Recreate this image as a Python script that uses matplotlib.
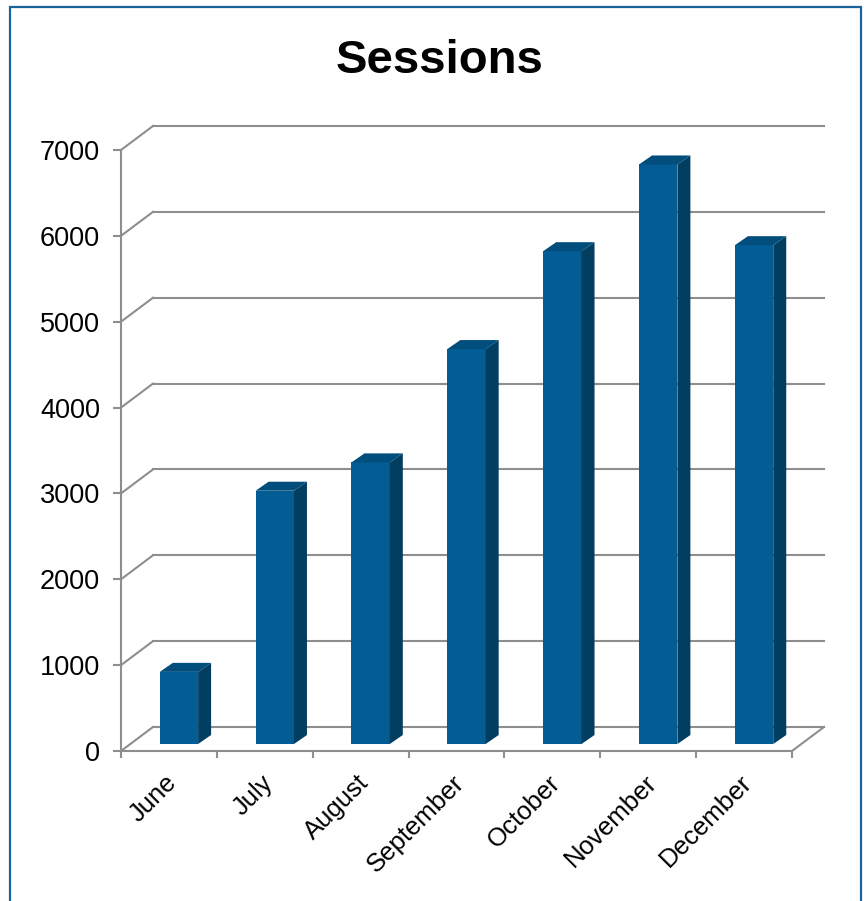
import matplotlib
matplotlib.use("Agg")
import matplotlib.pyplot as plt
from matplotlib import transforms
from matplotlib.patches import Polygon, Rectangle
from matplotlib.lines import Line2D
import numpy as np

# ---- data ----
months = ["June", "July", "August", "September", "October", "November", "December"]
sessions = [840, 2950, 3280, 4600, 5740, 6750, 5810]
y_ticks = [0, 1000, 2000, 3000, 4000, 5000, 6000, 7000]
title = "Sessions"

# ---- style ----
FRONT = "#035D94"
SIDE = "#023E60"
TOP = "#014D7B"
GRID = "#8E8E8E"
BORDER = "#1A6499"
FONT = "Liberation Sans"

W, H, DPI = 864, 901, 100
fig = plt.figure(figsize=(W / DPI, H / DPI), dpi=DPI)
fig.patch.set_facecolor("white")

# axes = front plane of the 3D box
left, right, top, bottom = 121, 792, 150, 751
ax = fig.add_axes([left / W, 1 - bottom / H, (right - left) / W, (bottom - top) / H])
ax.set_xlim(-0.5, len(months) - 0.5)
ax.set_ylim(0, 7000)
ax.patch.set_visible(False)

for s in ["top", "right"]:
    ax.spines[s].set_visible(False)
for s in ["left", "bottom"]:
    ax.spines[s].set_color(GRID)
    ax.spines[s].set_linewidth(1.5)
    ax.spines[s].set_zorder(1)

ax.set_yticks(y_ticks)
ax.set_yticklabels([str(v) for v in y_ticks], fontsize=19.5, family=FONT)
ax.tick_params(axis="y", length=6, width=1.5, color=GRID, pad=9)

ax.set_xticks(np.arange(-0.5, len(months)), labels=[""] * (len(months) + 1))
ax.tick_params(axis="x", which="major", length=5, width=1.5, color=GRID)
ax.set_xticks(np.arange(len(months)), minor=True)
ax.set_xticklabels(months, minor=True, rotation=45, ha="right", va="top",
                   rotation_mode="anchor", fontsize=18.5, family=FONT)
ax.tick_params(axis="x", which="minor", length=0, pad=14)
lab_shift = transforms.ScaledTranslation(-4 / DPI, 0, fig.dpi_scale_trans)
for lab in ax.get_xticklabels(minor=True):
    lab.set_transform(lab.get_transform() + lab_shift)

fig.canvas.draw()

# 3D offsets (display pixels)
back = (32, 24)        # back wall offset
bar_off = (10, 7)      # bar front plane offset
depth = (13, 9)        # bar depth

ident = transforms.IdentityTransform()

def disp(x, y):
    return ax.transData.transform((x, y))

def add_line(xs, ys):
    ln = Line2D(xs, ys, transform=ident, color=GRID, lw=1.5, zorder=0.5)
    ln.set_clip_on(False)
    ax.add_artist(ln)

x0, x1 = -0.5, len(months) - 0.5
# back wall gridlines and left diagonals
for v in y_ticks:
    p0 = disp(x0, v)
    p1 = disp(x1, v)
    add_line([p0[0] + back[0], p1[0] + back[0]], [p0[1] + back[1], p1[1] + back[1]])
    add_line([p0[0], p0[0] + back[0]], [p0[1], p0[1] + back[1]])
# right floor diagonal
p = disp(x1, 0)
add_line([p[0], p[0] + back[0]], [p[1], p[1] + back[1]])

# bars
bw = 0.4
bar_tr = transforms.offset_copy(ax.transData, fig=fig, x=bar_off[0], y=bar_off[1], units="dots")
bars = ax.bar(np.arange(len(months)), sessions, width=bw, color=FRONT, transform=bar_tr,
              zorder=3, linewidth=0)
for b in bars:
    b.set_clip_on(False)
for i, v in enumerate(sessions):
    br = disp(i + bw / 2, 0) + bar_off
    tl = disp(i - bw / 2, v) + bar_off
    tr = disp(i + bw / 2, v) + bar_off
    d = np.array(depth)
    side = Polygon([br, tr, tr + d, br + d], closed=True, transform=ident,
                   facecolor=SIDE, edgecolor="none", zorder=3)
    topf = Polygon([tl, tr, tr + d, tl + d], closed=True, transform=ident,
                   facecolor=TOP, edgecolor="none", zorder=3)
    for pg in (side, topf):
        pg.set_clip_on(False)
        ax.add_artist(pg)

# title
fig.text(440 / W, 1 - 73 / H, title, ha="center", va="baseline",
         fontsize=34, fontweight="bold", family=FONT)

# border
fig.add_artist(Rectangle((9.5 / W, -0.05), (861 - 9.5) / W, 1.05 - 6.5 / H,
                         transform=fig.transFigure, fill=False,
                         edgecolor=BORDER, lw=1.6, zorder=10))

fig.savefig("out.png", dpi=DPI, facecolor="white")
